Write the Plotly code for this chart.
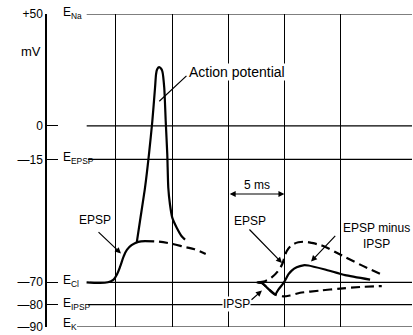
import plotly.graph_objects as go

# ---------------- data (time in ms, potential in mV) ----------------
levels = [50, 0, -15, -70, -80, -90]
tick_text = ["+50", "0", "—15", "—70", "—80", "—90"]
level_subs = ["Na", "", "EPSP", "Cl", "IPSP", "K"]
grid_times = [5, 10, 15, 20, 25]

# left: EPSP leading to action potential
epsp1_t = [2.4, 4.3, 4.8, 5.1, 5.4, 5.7, 6.0, 6.4, 7.0, 7.6]
epsp1_v = [-70, -70, -68.8, -66.5, -62.8, -58.4, -55.4, -53.4, -51.9, -51.6]
epsp1_tail_t = [7.6, 8.8, 10.0, 11.2, 12.0, 13.0]
epsp1_tail_v = [-51.6, -51.8, -52.8, -54.3, -55.2, -57.3]

ap_t = [6.86, 7.15, 7.60, 7.95, 8.25, 8.49, 8.58, 8.67, 8.85, 9.02, 9.14, 9.31,
        9.44, 9.58, 9.67, 9.82, 10.03, 10.42, 10.86, 11.16]
ap_v = [-52.4, -42.7, -27.7, -12.8, 2.1, 17.0, 23.0, 25.2, 26.2, 25.6, 24.4, 17.0,
        2.1, -12.8, -27.7, -35.2, -41.2, -45.6, -49.4, -50.9]

# right: EPSP alone (dashed), IPSP alone (dashed), EPSP minus IPSP (solid)
epsp2_t = [17.68, 18.27, 18.87, 19.46, 19.81, 19.99, 20.2, 20.65, 21.24, 21.83,
           22.43, 23.02, 23.61, 24.96, 26.74, 28.8]
epsp2_v = [-70, -69.5, -67.8, -64.8, -61.8, -59.1, -56.1, -53.4, -52.1, -51.9,
           -52.4, -53.1, -54.1, -57.6, -62.1, -66.9]

ipsp_t = [17.68, 18.0, 18.55, 19.31, 19.9, 20.5, 21.4, 23.17, 24.96, 26.74, 28.66]
ipsp_v = [-70, -70.3, -72.8, -75.8, -76.3, -75.9, -74.7, -73.7, -72.8, -72.1, -71.7]

diff_t = [17.54, 18.0, 19.16, 19.46, 19.99, 20.35, 20.65, 21.09, 21.68, 22.13,
          23.61, 25.4, 27.62]
diff_v = [-70, -70.3, -75.5, -73.3, -69.8, -66.5, -64.8, -63.3, -62.4, -62.5,
          -64.3, -66.8, -68.8]

# ---------------- figure ----------------
X0, X1 = -1.12, 31.35
FONT = "Liberation Sans, Arial, sans-serif"
line_starts = [2.41, 2.41, 2.53, 2.70, 2.53, 1.55]
label_shifts = [1, 0, 1, 1, 1, 3]

fig = go.Figure()

def add_curve(t, v, dash=None, smooth=1.0, width=2.2):
    fig.add_trace(go.Scatter(
        x=t, y=v, mode="lines",
        line=dict(color="black", width=width, shape="spline", smoothing=smooth,
                  dash=dash),
        hoverinfo="skip", showlegend=False))

add_curve(epsp1_t, epsp1_v)
add_curve(epsp1_tail_t, epsp1_tail_v, dash="9px,5px")
add_curve(ap_t, ap_v, smooth=0.6)
add_curve(epsp2_t, epsp2_v, dash="9px,5px")
add_curve(ipsp_t, ipsp_v, dash="9px,5px", smooth=0.6)
add_curve(diff_t, diff_v, smooth=0.5)

# horizontal equilibrium-potential lines
for lv, xs in zip(levels, line_starts):
    fig.add_shape(type="line", xref="x", yref="y", x0=xs, x1=X1, y0=lv, y1=lv,
                  line=dict(color="black", width=1.2), layer="below")

ann = []
for lv, sub, ys in zip(levels, level_subs, label_shifts):
    if sub:
        ann.append(dict(x=0.12, y=lv, xref="x", yref="y", xanchor="left",
                        yanchor="middle", showarrow=False, yshift=ys,
                        text=f"E<sub>{sub}</sub>", font=dict(size=12)))

def label(text, x, y, size=12, bg=None, anchor="center"):
    d = dict(x=x, y=y, xref="x", yref="y", text=text, showarrow=False,
             xanchor=anchor, yanchor="middle", font=dict(size=size), borderpad=0)
    if bg:
        d["bgcolor"] = bg
    ann.append(d)

def arrow(x0, y0, x1, y1, head=2, side="end"):
    ann.append(dict(x=x1, y=y1, ax=x0, ay=y0, xref="x", yref="y", axref="x",
                    ayref="y", text="", showarrow=True, arrowhead=head,
                    arrowsize=1, arrowwidth=1.2, arrowcolor="black",
                    arrowside=side, standoff=0, startstandoff=0))

label("Action potential", 11.42, 23.9, size=14, bg="white", anchor="left")
arrow(11.42, 22.96, 8.87, 11.0, head=0)
label("EPSP", 3.15, -42.2)
arrow(3.33, -46.9, 5.46, -57.1)
label("EPSP", 16.94, -42.6)
arrow(16.76, -45.7, 19.79, -61.4)
label("5 ms", 17.54, -26.3)
arrow(15, -30.5, 20, -30.5, side="end+start")
label("EPSP minus<br>IPSP", 28.15, -49.2)
arrow(24.65, -48.6, 22.37, -60.7)
label("IPSP", 15.76, -79.7, bg="white")
arrow(16.94, -78.4, 18.0, -73.7)
ann.append(dict(x=-0.011, y=33.25, xref="paper", yref="y", text="mV",
                showarrow=False, xanchor="right", yanchor="middle",
                font=dict(size=13)))

fig.update_layout(
    width=413, height=335,
    margin=dict(l=47, r=1, t=14, b=8, autoexpand=False),
    paper_bgcolor="white", plot_bgcolor="white",
    font=dict(family=FONT, color="black", size=12),
    annotations=ann,
    showlegend=False,
    xaxis=dict(range=[X0, X1], tickvals=grid_times, showgrid=True,
               gridcolor="black", gridwidth=1, showticklabels=False,
               ticks="", zeroline=False, showline=False, fixedrange=True),
    yaxis=dict(range=[-90, 50], tickvals=levels, ticktext=tick_text,
               ticks="inside", ticklen=11, tickwidth=1.3, tickcolor="black",
               showline=True, linecolor="black", linewidth=1.5,
               showgrid=False, zeroline=False, tickfont=dict(size=12),
               fixedrange=True),
)

fig.write_html("out.html", post_script="document.body.style.margin='0';",
               config={"displayModeBar": False})
